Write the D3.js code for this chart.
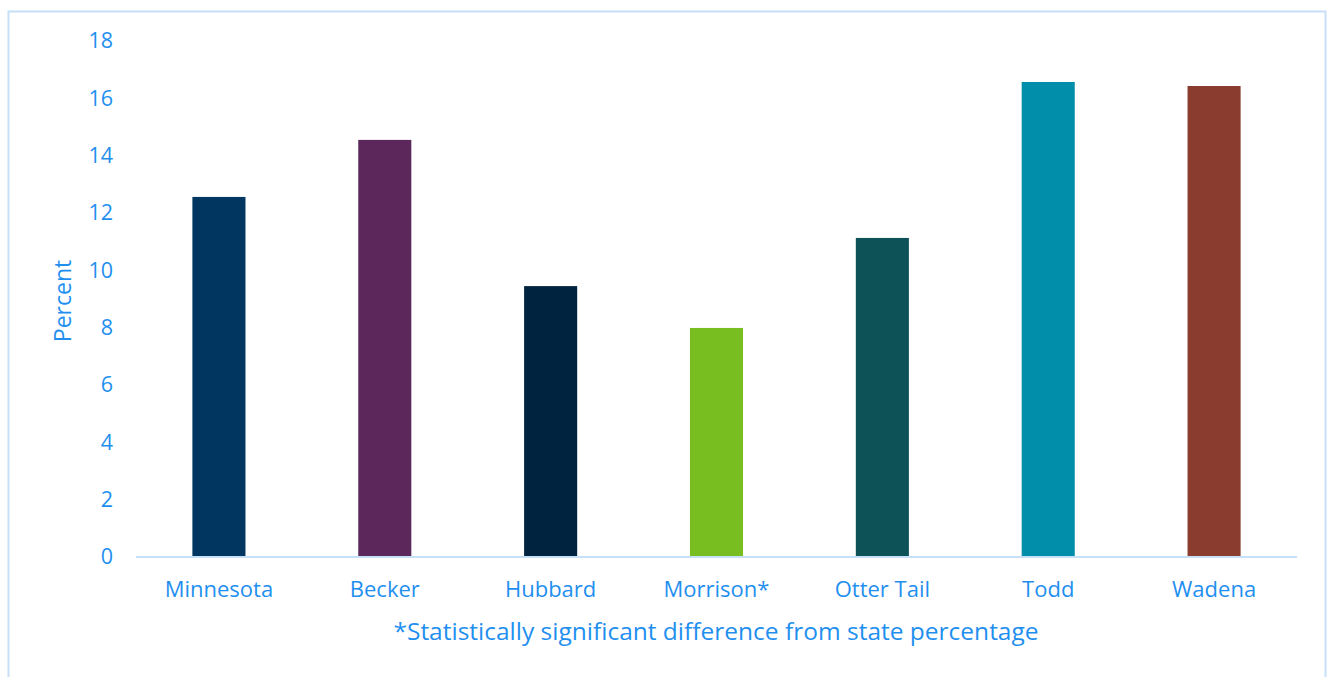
<!DOCTYPE html>
<html>
<head>
<meta charset="utf-8">
<script src="https://cdn.jsdelivr.net/npm/d3@7"></script>
<style>
  html, body { margin: 0; padding: 0; background: #fff; }
  svg { display: block; }
  text { font-family: "Open Sans", "Lato", sans-serif; }
</style>
</head>
<body>
<svg id="chart" width="1329" height="677"></svg>
<script>
const categories = ["Minnesota", "Becker", "Hubbard", "Morrison*", "Otter Tail", "Todd", "Wadena"];
const values = [12.56, 14.55, 9.45, 7.99, 11.13, 16.57, 16.43];
const barColors = ["#003660", "#5C285C", "#00233F", "#78BE20", "#0D5257", "#008EAA", "#8A3C2E"];
const yTicks = [0, 2, 4, 6, 8, 10, 12, 14, 16, 18];
const yTitle = "Percent";
const footnote = "*Statistically significant difference from state percentage";

const textColor = "#1F8FEF";
const svg = d3.select("#chart");

// outer frame
svg.append("rect")
  .attr("x", 8.5).attr("y", 11.5)
  .attr("width", 1317).attr("height", 700)
  .attr("fill", "none").attr("stroke", "#C5E0F7").attr("stroke-width", 2);

const mLeft = 136, mRight = 1297, mTop = 41, mBottom = 557;

const x = d3.scaleBand().domain(categories).range([mLeft, mRight]).paddingInner(0.68).paddingOuter(0.34);
const y = d3.scaleLinear().domain([0, 18]).range([mBottom, mTop]);

// bars
svg.append("g").selectAll("rect")
  .data(categories)
  .join("rect")
  .attr("x", d => x(d))
  .attr("y", (d, i) => y(values[i]))
  .attr("width", x.bandwidth())
  .attr("height", (d, i) => y(0) - y(values[i]))
  .attr("fill", (d, i) => barColors[i]);

// y axis
const yAxis = svg.append("g")
  .attr("transform", `translate(${mLeft},0)`)
  .call(d3.axisLeft(y).tickValues(yTicks).tickSize(0).tickPadding(23));
yAxis.select(".domain").remove();
yAxis.selectAll("text")
  .attr("fill", textColor)
  .style("font-size", "21.5px");

// x axis
const xAxis = svg.append("g")
  .attr("transform", `translate(0,${mBottom})`)
  .call(d3.axisBottom(x).tickSize(0).tickPadding(24));
xAxis.select(".domain").attr("stroke", "#C5E0F7").attr("stroke-width", 2)
  .attr("d", `M${mLeft},0H${mRight}`);
xAxis.selectAll("text")
  .attr("fill", textColor)
  .style("font-size", "22px");

// y title
svg.append("text")
  .attr("transform", `translate(71,${(mTop + mBottom) / 2 + 2}) rotate(-90)`)
  .attr("text-anchor", "middle")
  .attr("fill", textColor)
  .style("font-size", "23px")
  .text(yTitle);

// footnote
svg.append("text")
  .attr("x", 716).attr("y", 640)
  .attr("text-anchor", "middle")
  .attr("fill", textColor)
  .style("font-size", "24.5px")
  .text(footnote);
</script>
</body>
</html>
